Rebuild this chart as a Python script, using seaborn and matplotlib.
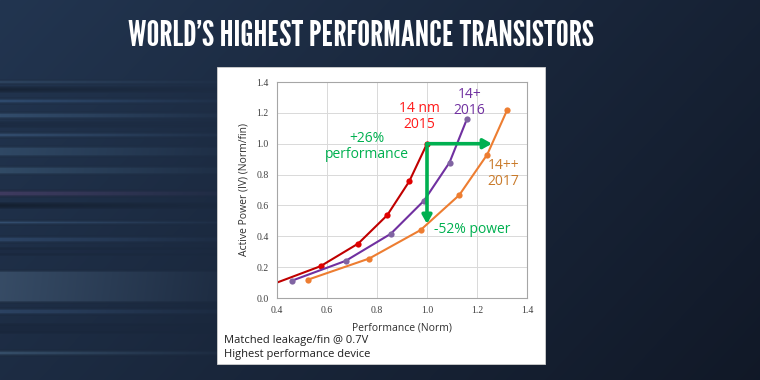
import numpy as np
import matplotlib
matplotlib.use("Agg")
import matplotlib.pyplot as plt
import seaborn as sns
from matplotlib.patches import Rectangle

# data
perf_14 = [0.40, 0.574, 0.725, 0.841, 0.929, 1.000]
power_14 = [0.100, 0.206, 0.353, 0.537, 0.756, 1.000]
perf_14p = [0.461, 0.675, 0.855, 0.988, 1.090, 1.159]
power_14p = [0.113, 0.241, 0.416, 0.631, 0.878, 1.157]
perf_14pp = [0.524, 0.769, 0.974, 1.129, 1.241, 1.321]
power_14pp = [0.119, 0.256, 0.440, 0.667, 0.930, 1.220]
perf_gain = 0.26
power_cut = 0.52
yticks = [0.0, 0.2, 0.4, 0.6, 0.8, 1.0, 1.2, 1.4]
xticks = [0.4, 0.6, 0.8, 1.0, 1.2, 1.4]

sns.set_style("white")
plt.rcParams['font.family'] = ['Open Sans', 'DejaVu Sans']

W, H = 760, 380
fig = plt.figure(figsize=(7.6, 3.8), dpi=100)

# background: dark navy gradient with blurred streaks on the left
bg = fig.add_axes([0, 0, 1, 1])
xx = np.linspace(0, 1, W)[None, :]
yy = np.linspace(0, 1, H)[:, None]
base0 = np.array([0x22, 0x35, 0x50]) / 255
base1 = np.array([0x10, 0x17, 0x25]) / 255
mix = np.clip(0.65 * xx + 0.3 * yy, 0, 1)[..., None]
img = base0 * (1 - mix) + base1 * mix
streaks = [(80, 3, (0.35, 0.5, 0.65), 0.45), (87, 4, (0.05, 0.08, 0.12), 0.5),
           (98, 5, (0.25, 0.4, 0.58), 0.45), (112, 6, (0.3, 0.45, 0.6), 0.4),
           (122, 4, (0.08, 0.12, 0.2), 0.35), (132, 5, (0.3, 0.45, 0.62), 0.4),
           (146, 10, (0.3, 0.45, 0.58), 0.35), (166, 8, (0.32, 0.48, 0.6), 0.35),
           (190, 6, (0.4, 0.28, 0.48), 0.45), (203, 4, (0.05, 0.08, 0.12), 0.6),
           (220, 4, (0.3, 0.45, 0.62), 0.45), (236, 6, (0.25, 0.38, 0.55), 0.4),
           (248, 6, (0.1, 0.15, 0.25), 0.45), (270, 32, (0.36, 0.47, 0.58), 0.4),
           (308, 6, (0.25, 0.38, 0.55), 0.4), (324, 8, (0.08, 0.12, 0.2), 0.35),
           (350, 5, (0.35, 0.5, 0.62), 0.4)]
fade = np.clip(1 - np.linspace(0, 1, W) / 0.34, 0, 1) ** 1.1
layer = np.zeros((H, 3))
weight = np.zeros(H)
for y0, h, c, a in streaks:
    layer[y0:y0 + h] = c
    weight[y0:y0 + h] = a
kern = np.ones(4) / 4
weight = np.convolve(weight, kern, mode='same')
layer = np.stack([np.convolve(layer[:, i], kern, mode='same') for i in range(3)], axis=1)
alpha = weight[:, None, None] * fade[None, :, None]
img = img * (1 - alpha) + layer[:, None, :] * alpha
bg.imshow(img, extent=[0, 1, 0, 1], aspect='auto', origin='upper')
bg.set_axis_off()

fig.text(361 / W, 1 - 37 / H, "WORLD\u2019S HIGHEST PERFORMANCE TRANSISTORS",
         ha='center', va='center', color='white', fontsize=26,
         family=['League Gothic', 'Bebas Neue', 'Oswald', 'Antonio', 'DejaVu Sans'])

# white panel
fig.patches.append(Rectangle((217 / W, 1 - 364 / H), 328 / W, 297 / H,
                             transform=fig.transFigure, facecolor='white',
                             edgecolor='#d0d0d0', lw=0.6, zorder=1))

ax = fig.add_axes([277 / W, 1 - 298 / H, 250 / W, 216 / H], zorder=2)
ax.set_facecolor('white')

sns.lineplot(x=perf_14, y=power_14, ax=ax, color='#c00000', lw=1.5,
             marker='o', markersize=4.5, markeredgewidth=0, markevery=[1, 2, 3, 4, 5],
             markerfacecolor='#e00000', sort=False)
sns.lineplot(x=perf_14p, y=power_14p, ax=ax, color='#7030a0', lw=1.5,
             marker='o', markersize=4.5, markeredgewidth=0,
             markerfacecolor='#8064a2', sort=False)
sns.lineplot(x=perf_14pp, y=power_14pp, ax=ax, color='#ed7d31', lw=1.5,
             marker='o', markersize=4.5, markeredgewidth=0, sort=False)

ref_x, ref_y = perf_14[-1], power_14[-1]
arrow = dict(arrowstyle='-|>,head_length=0.5,head_width=0.28', color='#00b050',
             lw=2.6, shrinkA=0, shrinkB=0)
ax.annotate('', xy=(ref_x * (1 + perf_gain), ref_y), xytext=(ref_x, ref_y), arrowprops=arrow)
ax.annotate('', xy=(ref_x, ref_y * (1 - power_cut)), xytext=(ref_x, ref_y), arrowprops=arrow)

ax.text(0.969, 1.177, "14 nm\n2015", color='#ff1a1a', fontsize=10, ha='center',
        va='center', linespacing=1.1)
ax.text(1.169, 1.268, "14+\n2016", color='#7030a0', fontsize=10, ha='center',
        va='center', linespacing=1.1)
ax.text(0.758, 0.982, "+26%\nperformance", color='#00b050', fontsize=10, ha='center',
        va='center', linespacing=1.1)
ax.text(1.306, 0.808, "14++\n2017", color='#c97a2a', fontsize=10, ha='center',
        va='center', linespacing=1.1)
ax.text(1.18, 0.444, "-52% power", color='#00b050', fontsize=10, ha='center',
        va='center')

ax.set_xlim(0.4, 1.4)
ax.set_ylim(0, 1.4)
ax.set_xticks(xticks)
ax.set_yticks(yticks)
ax.set_xticklabels([f"{t:.1f}" for t in xticks], family='Liberation Serif', fontsize=7, color='#404040')
ax.set_yticklabels([f"{t:.1f}" for t in yticks], family='Liberation Serif', fontsize=7, color='#404040')
ax.tick_params(length=0, pad=6)
ax.grid(True, color='#d9d9d9', lw=0.7)
for s in ax.spines.values():
    s.set_color('#a6a6a6')
    s.set_linewidth(0.8)
ax.set_xlabel("Performance (Norm)", fontsize=7.5, color='#303030', labelpad=5)
ax.set_ylabel("Active Power (IV) (Norm/fin)", fontsize=7.5, color='#303030', labelpad=5)

fig.text(224 / W, 1 - 341 / H, "Matched leakage/fin @ 0.7V", fontsize=8,
         color='#202020', va='center', zorder=3)
fig.text(224 / W, 1 - 354 / H, "Highest performance device", fontsize=8,
         color='#202020', va='center', zorder=3)

fig.savefig("out.png", dpi=100)
